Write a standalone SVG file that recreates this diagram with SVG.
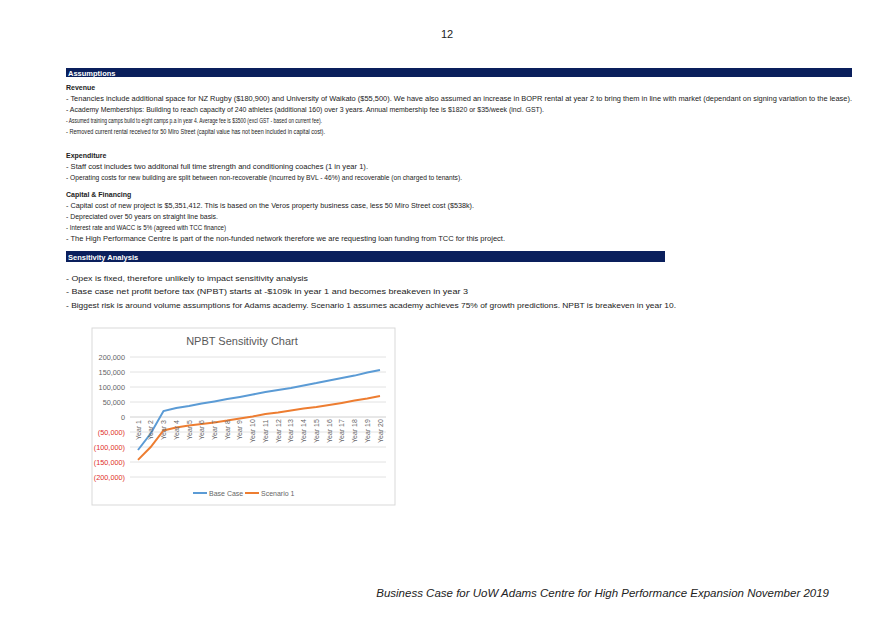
<svg xmlns="http://www.w3.org/2000/svg" width="895" height="626" viewBox="0 0 895 626">
<style>
text{font-family:"Liberation Sans",Arial,sans-serif;fill:#222}
.s{font-size:6.6px}
.h{font-size:7px;font-weight:bold}
.bar{fill:#0a1f5c}
.bt{font-size:7.5px;font-weight:bold;fill:#fff}
.m{font-size:8px}
.ax{font-size:7.3px;fill:#666;text-anchor:end}
.neg{fill:#e0302a}
.g{stroke:#e2e2e2;stroke-width:1}
.yr{font-size:7px;fill:#666}
</style>
<rect width="895" height="626" fill="#fff"/>
<text x="447" y="38" font-size="11" text-anchor="middle">12</text>
<g id="assumptions">
<rect class="bar" x="66" y="68" width="786" height="9"/>
<text class="bt" x="68" y="75.5">Assumptions</text>
<text class="h" x="66" y="90">Revenue</text>
<text class="s" x="66" y="101" textLength="786" lengthAdjust="spacingAndGlyphs">- Tenancies include additional space for NZ Rugby ($180,900) and University of Waikato ($55,500). We have also assumed an increase in BOPR rental at year 2 to bring them in line with market (dependant on signing variation to the lease).</text>
<text class="s" x="66" y="112" textLength="478" lengthAdjust="spacingAndGlyphs">- Academy Memberships: Building to reach capacity of 240 athletes (additional 160) over 3 years. Annual membership fee is $1820 or $35/week (incl. GST).</text>
<text class="s" x="66" y="123" textLength="256" lengthAdjust="spacingAndGlyphs">- Assumed training camps build to eight camps p.a in year 4. Average fee is $3500 (excl GST - based on current fee).</text>
<text class="s" x="66" y="134" textLength="259" lengthAdjust="spacingAndGlyphs">- Removed current rental received for 50 Miro Street (capital value has not been included in capital cost).</text>
<text class="h" x="66" y="158">Expenditure</text>
<text class="s" x="66" y="169" textLength="302" lengthAdjust="spacingAndGlyphs">- Staff cost includes two additonal full time strength and conditioning coaches (1 in year 1).</text>
<text class="s" x="66" y="180" textLength="396" lengthAdjust="spacingAndGlyphs">- Operating costs for new building are split between non-recoverable (incurred by BVL - 46%) and recoverable (on charged to tenants).</text>
<text class="h" x="66" y="197">Capital &amp; Financing</text>
<text class="s" x="66" y="208" textLength="408" lengthAdjust="spacingAndGlyphs">- Capital cost of new project is $5,351,412. This is based on the Veros property business case, less 50 Miro Street cost ($538k).</text>
<text class="s" x="66" y="219" textLength="152" lengthAdjust="spacingAndGlyphs">- Depreciated over 50 years on straight line basis.</text>
<text class="s" x="66" y="230" textLength="160" lengthAdjust="spacingAndGlyphs">- Interest rate and WACC is 5% (agreed with TCC finance)</text>
<text class="s" x="66" y="241" textLength="439" lengthAdjust="spacingAndGlyphs">- The High Performance Centre is part of the non-funded network therefore we are requesting loan funding from TCC for this project.</text>
</g>
<g id="sensitivity">
<rect class="bar" x="66" y="251" width="599" height="11"/>
<text class="bt" x="68" y="259.5">Sensitivity Analysis</text>
<text class="m" x="66" y="281" textLength="242" lengthAdjust="spacingAndGlyphs">- Opex is fixed, therefore unlikely to impact sensitivity analysis</text>
<text class="m" x="66" y="294" textLength="402" lengthAdjust="spacingAndGlyphs">- Base case net profit before tax (NPBT) starts at -$109k in year 1 and becomes breakeven in year 3</text>
<text class="m" x="66" y="308" textLength="610" lengthAdjust="spacingAndGlyphs">- Biggest risk is around volume assumptions for Adams academy. Scenario 1 assumes academy achieves 75% of growth predictions. NPBT is breakeven in year 10.</text>
</g>
<g id="chart">
<rect x="92" y="328" width="303" height="177" fill="#fff" stroke="#d9d9d9"/>
<text x="242" y="345" font-size="11" fill="#595959" text-anchor="middle" style="fill:#595959">NPBT Sensitivity Chart</text>
<g>
<line class="g" x1="130" y1="357" x2="386" y2="357"/>
<line class="g" x1="130" y1="372" x2="386" y2="372"/>
<line class="g" x1="130" y1="387" x2="386" y2="387"/>
<line class="g" x1="130" y1="402" x2="386" y2="402"/>
<line x1="130" y1="417" x2="386" y2="417" stroke="#d0d0d0"/>
<line class="g" x1="130" y1="432" x2="386" y2="432"/>
<line class="g" x1="130" y1="447" x2="386" y2="447"/>
<line class="g" x1="130" y1="462" x2="386" y2="462"/>
<line class="g" x1="130" y1="477" x2="386" y2="477"/>
</g>
<g>
<text class="ax" x="125" y="359.5">200,000</text>
<text class="ax" x="125" y="374.5">150,000</text>
<text class="ax" x="125" y="389.5">100,000</text>
<text class="ax" x="125" y="404.5">50,000</text>
<text class="ax" x="125" y="419.5">0</text>
<text class="ax neg" x="125" y="434.5">(50,000)</text>
<text class="ax neg" x="125" y="449.5">(100,000)</text>
<text class="ax neg" x="125" y="464.5">(150,000)</text>
<text class="ax neg" x="125" y="479.5">(200,000)</text>
</g>
<g id="connectors">
<polyline fill="none" stroke="#5b9bd5" stroke-width="2" points="138,450 150.7,433.5 163.5,411 176.2,408 189,405.9 201.7,403.5 214.4,401.4 227.2,399 239.9,396.9 252.7,394.5 265.4,392.1 278.1,390 290.9,387.9 303.6,385.5 316.4,383.1 329.1,380.4 341.8,378 354.6,375.6 367.3,372.6 380,369.9"/>
<polyline fill="none" stroke="#ed7d31" stroke-width="2" points="138,459.9 150.7,447 163.5,430.5 176.2,427.5 189,425.4 201.7,423.9 214.4,422.4 227.2,420.6 239.9,418.5 252.7,416.4 265.4,414 278.1,412.5 290.9,410.4 303.6,408.6 316.4,407.1 329.1,405 341.8,402.9 354.6,400.5 367.3,398.4 380,396"/>
</g>
<g>
<text class="yr" transform="translate(140.5,440) rotate(-90)">Year 1</text>
<text class="yr" transform="translate(153.2,440) rotate(-90)">Year 2</text>
<text class="yr" transform="translate(166,440) rotate(-90)">Year 3</text>
<text class="yr" transform="translate(178.7,440) rotate(-90)">Year 4</text>
<text class="yr" transform="translate(191.5,440) rotate(-90)">Year 5</text>
<text class="yr" transform="translate(204.2,440) rotate(-90)">Year 6</text>
<text class="yr" transform="translate(216.9,440) rotate(-90)">Year 7</text>
<text class="yr" transform="translate(229.7,440) rotate(-90)">Year 8</text>
<text class="yr" transform="translate(242.4,440) rotate(-90)">Year 9</text>
<text class="yr" transform="translate(255.2,443) rotate(-90)">Year 10</text>
<text class="yr" transform="translate(267.9,443) rotate(-90)">Year 11</text>
<text class="yr" transform="translate(280.6,443) rotate(-90)">Year 12</text>
<text class="yr" transform="translate(293.4,443) rotate(-90)">Year 13</text>
<text class="yr" transform="translate(306.1,443) rotate(-90)">Year 14</text>
<text class="yr" transform="translate(318.9,443) rotate(-90)">Year 15</text>
<text class="yr" transform="translate(331.6,443) rotate(-90)">Year 16</text>
<text class="yr" transform="translate(344.3,443) rotate(-90)">Year 17</text>
<text class="yr" transform="translate(357.1,443) rotate(-90)">Year 18</text>
<text class="yr" transform="translate(369.8,443) rotate(-90)">Year 19</text>
<text class="yr" transform="translate(382.5,443) rotate(-90)">Year 20</text>
</g>
<g id="legend">
<line x1="193" y1="493" x2="207" y2="493" stroke="#5b9bd5" stroke-width="2"/>
<text x="209" y="495.5" font-size="7" style="fill:#666">Base Case</text>
<line x1="245" y1="493" x2="259" y2="493" stroke="#ed7d31" stroke-width="2"/>
<text x="261" y="495.5" font-size="7" style="fill:#666">Scenario 1</text>
</g>
</g>
<text x="829" y="597" font-size="11.5" font-style="italic" text-anchor="end">Business Case for UoW Adams Centre for High Performance Expansion November 2019</text>
</svg>
